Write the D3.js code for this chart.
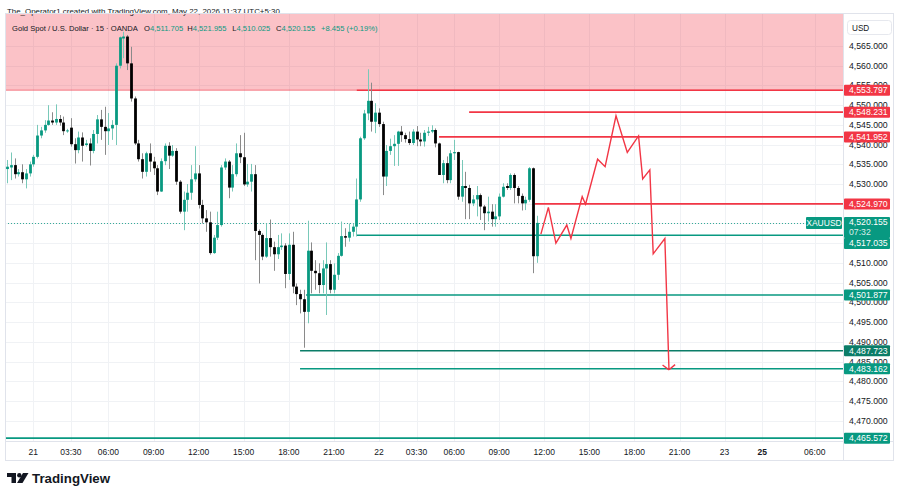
<!DOCTYPE html>
<html>
<head>
<meta charset="utf-8">
<script src="https://cdnjs.cloudflare.com/ajax/libs/d3/7.8.5/d3.min.js"></script>
<style>
  body { margin: 0; background: #fff; }
  text { font-family: "Liberation Sans", Arial, sans-serif; }
</style>
</head>
<body>
<svg id="chart" width="900" height="498"></svg>
<script>
// ---- data : 15 min candles, XAUUSD, bar 0 = 21 May 00:00 ----
var firstBar = -7;
var opens = [4533.8,4534.2,4534.8,4532.5,4533.0,4531.2,4532.7,
  4535.0,4536.9,4542.3,4543.6,4545.0,4546.1,4545.6,4546.5,4545.6,4543.4,
  4544.3,4540.1,4538.6,4541.8,4539.9,4540.3,4538.4,4542.7,4546.4,4544.5,
  4543.4,4544.1,4545.0,4560.0,4566.9,4567.4,4560.6,4551.7,4540.3,4536.3,
  4533.1,4537.8,4535.7,4534.0,4528.1,4535.8,4539.7,4537.2,4538.4,4530.6,
  4523.0,4526.0,4527.8,4531.2,4532.7,4524.7,4521.3,4520.3,4512.5,4516.4,
  4519.6,4534.2,4535.7,4529.1,4532.5,4537.8,4536.8,4529.9,4530.6,4532.5,
  4518.1,4517.1,4511.6,4516.3,4514.0,4512.2,4514.0,4514.4,4507.2,4514.6,
  4504.0,4502.1,4500.8,4497.6,4513.1,4508.0,4507.4,4504.4,4508.6,4509.7,
  4503.2,4507.0,4511.8,4516.8,4516.4,4517.9,4519.2,4526.1,4541.6,4547.9,
  4551.1,4545.8,4548.1,4545.2,4531.9,4538.4,4539.6,4540.2,4543.3,4542.4,
  4541.4,4540.4,4543.3,4541.3,4540.8,4543.0,4543.3,4543.7,4540.3,4532.3,
  4535.3,4531.0,4537.8,4538.1,4526.8,4529.5,4529.0,4525.1,4526.1,4527.2,
  4524.3,4522.6,4523.0,4521.1,4521.8,4526.8,4529.5,4529.0,4532.3,4529.0,
  4527.0,4525.1,4526.0,4534.0,4511.705];
var highs = [4536.1,4538.0,4536.5,4533.8,4535.0,4533.8,4535.7,
  4537.4,4545.0,4544.5,4546.2,4550.0,4548.2,4550.2,4547.5,4547.1,4544.0,
  4546.7,4541.6,4543.3,4543.1,4541.2,4541.6,4543.7,4547.5,4548.8,4549.6,
  4548.0,4546.2,4560.6,4567.4,4568.6,4567.8,4564.8,4552.2,4541.2,4537.8,
  4538.2,4540.3,4536.9,4534.8,4536.5,4540.3,4540.6,4539.9,4539.1,4531.0,
  4528.1,4530.0,4534.8,4539.6,4534.8,4526.0,4523.4,4523.0,4517.1,4523.0,
  4534.8,4536.5,4536.1,4534.8,4540.3,4542.4,4543.0,4535.1,4535.1,4534.8,
  4518.5,4517.5,4520.0,4521.0,4515.4,4517.1,4517.5,4515.0,4517.5,4517.9,
  4504.8,4503.2,4503.2,4520.7,4515.2,4510.7,4509.9,4510.7,4515.2,4510.7,
  4509.9,4512.5,4520.5,4518.8,4520.0,4520.0,4531.4,4542.0,4548.8,4559.1,
  4555.7,4550.5,4549.2,4545.8,4539.9,4541.5,4542.4,4543.5,4544.7,4543.0,
  4543.3,4543.9,4544.7,4543.0,4543.7,4544.5,4544.9,4544.1,4540.5,4536.1,
  4537.0,4538.6,4541.2,4538.2,4536.1,4533.1,4529.8,4527.2,4529.5,4527.6,
  4524.7,4526.8,4524.9,4524.9,4527.6,4530.2,4530.2,4532.7,4532.7,4529.5,
  4527.6,4526.8,4534.3,4534.2,4521.955];
var lows = [4530.2,4531.0,4531.4,4531.9,4530.2,4528.9,4531.9,
  4534.4,4536.5,4541.6,4543.0,4544.8,4545.0,4545.0,4544.8,4542.4,4543.0,
  4539.5,4535.2,4537.8,4535.7,4539.5,4534.7,4537.8,4540.3,4541.2,4537.4,
  4539.9,4541.2,4539.9,4559.3,4561.9,4558.9,4550.9,4539.9,4535.7,4531.4,
  4531.9,4533.1,4532.3,4527.2,4528.0,4534.8,4533.8,4536.9,4529.8,4522.5,
  4518.3,4523.0,4526.0,4530.6,4523.8,4520.0,4517.9,4512.1,4512.3,4515.8,
  4519.2,4533.6,4526.4,4528.1,4531.9,4535.3,4529.5,4529.3,4528.1,4510.7,
  4504.8,4510.7,4511.3,4511.6,4508.0,4511.0,4513.3,4503.6,4505.7,4502.3,
  4499.3,4497.2,4488.5,4494.7,4502.3,4503.2,4502.3,4502.3,4496.8,4502.3,
  4502.3,4505.7,4511.6,4514.1,4515.4,4516.7,4516.7,4525.5,4541.2,4546.2,
  4543.3,4542.9,4544.5,4527.2,4529.5,4537.4,4534.6,4534.6,4540.7,4540.5,
  4539.9,4539.9,4539.6,4539.6,4539.5,4542.2,4542.9,4539.3,4532.3,4530.2,
  4530.2,4530.2,4536.1,4526.0,4525.5,4521.1,4521.1,4524.4,4521.8,4520.9,
  4518.3,4520.5,4519.2,4519.2,4520.9,4526.6,4528.5,4528.5,4525.1,4525.1,
  4523.3,4523.4,4525.5,4507.4,4510.025];
var closes = [4534.4,4534.8,4532.5,4533.0,4531.2,4532.7,4535.0,
  4536.9,4542.3,4543.6,4545.0,4546.1,4545.6,4546.5,4545.6,4543.4,4543.6,
  4540.1,4538.6,4541.8,4539.7,4540.3,4538.4,4542.7,4546.4,4544.5,4543.4,
  4544.1,4545.0,4560.0,4567.2,4567.4,4560.6,4551.7,4540.3,4536.3,4533.1,
  4537.8,4535.7,4534.0,4528.1,4535.8,4539.7,4537.2,4538.4,4530.6,4523.0,
  4526.0,4527.8,4531.2,4532.7,4524.7,4521.3,4520.3,4512.5,4516.4,4519.6,
  4534.2,4535.7,4529.1,4532.5,4537.8,4536.8,4529.9,4530.6,4532.5,4518.1,
  4517.1,4511.6,4516.3,4514.0,4512.2,4514.0,4514.4,4507.2,4514.6,4504.0,
  4502.1,4500.8,4497.6,4513.1,4508.0,4507.4,4504.4,4508.6,4509.7,4503.2,
  4507.0,4511.8,4516.8,4516.4,4517.9,4519.2,4526.1,4541.6,4547.9,4551.1,
  4545.8,4548.1,4545.2,4531.9,4538.4,4539.6,4540.2,4543.3,4542.4,4541.4,
  4540.4,4543.3,4541.3,4540.8,4543.0,4543.3,4543.7,4540.3,4532.3,4535.3,
  4531.0,4537.8,4538.1,4526.8,4529.5,4529.0,4525.1,4526.1,4527.2,4524.3,
  4522.6,4523.0,4521.1,4521.8,4526.8,4529.3,4529.0,4532.3,4529.0,4527.0,
  4525.1,4526.0,4534.0,4511.7,4520.155];

// time axis (bar index of each label)
var timeTickIdx = [0,10,20,32,44,56,68,80,92,102,112,124,136,148,160,172,184,194,208];
var timeTickLab = ["21","03:30","06:00","09:00","12:00","15:00","18:00","21:00","22",
                   "03:30","06:00","09:00","12:00","15:00","18:00","21:00","23","25","06:00"];
var priceTicks = d3.range(4470, 4566, 5);

// drawn levels
var zoneLow = 4553.797, zoneHigh = 4585;
var levelVals  = [4553.797, 4548.231, 4541.952, 4524.970, 4517.035, 4501.877, 4487.723, 4483.162, 4465.572];
var levelFrom  = [86.1, 116, 108, 133.5, 86.1, 72.6, 71, 71, null];
var levelKind  = ["res","res","res","res","sup","sup","sup2","sup","sup"];

// projected path
var projIdx = [135.1,137.1,139.1,142.0,143.1,146.1,147.0,150.2,152.2,155.1,158.1,161.1,162.2,164.1,165.0,168.1,169.2];
var projVal = [4517.3,4524.1,4515.0,4519.6,4516.2,4526.8,4524.9,4536.3,4534.4,4547.3,4538.0,4542.2,4531.3,4533.6,4512.3,4516.2,4482.9];

// ---- layout ----
var svg = d3.select("#chart");
var plot = {left: 5, right: 843, top: 13, bottom: 441, axisRight: 893, axisBottom: 460};
var x = d3.scaleLinear().domain([0, 208]).range([33.3, 33.3 + 208 * 3.757]);
var y = d3.scaleLinear().domain([4565, 4470]).range([46, 420.7]);
var up = "#089981", down = "#000000", red = "#f23645";
var kindColor = {res: red, sup: up, sup2: "#0b7d68"};
var fmt = d3.format(",.3f");

// shrink a text's font so it spans the wanted width
function fit(t, w) {
  var fs = parseFloat(t.attr("font-size"));
  t.attr("font-size", fs * w / t.node().getComputedTextLength());
  return t;
}

svg.append("rect").attr("width", 900).attr("height", 498).attr("fill", "#fff");
svg.append("clipPath").attr("id", "pc").append("rect")
   .attr("x", plot.left).attr("y", plot.top)
   .attr("width", plot.right - plot.left).attr("height", plot.bottom - plot.top);
var g = svg.append("g").attr("clip-path", "url(#pc)");

// grid
g.selectAll(".hg").data(priceTicks).enter().append("line")
 .attr("x1", plot.left).attr("x2", plot.right)
 .attr("y1", function(d){ return Math.round(y(d)) + 0.5; })
 .attr("y2", function(d){ return Math.round(y(d)) + 0.5; })
 .attr("stroke", "#f0f2f5");
g.selectAll(".vg").data(timeTickIdx).enter().append("line")
 .attr("y1", plot.top).attr("y2", plot.bottom)
 .attr("x1", function(d){ return Math.round(x(d)) + 0.5; })
 .attr("x2", function(d){ return Math.round(x(d)) + 0.5; })
 .attr("stroke", "#f0f2f5");

// supply zone
g.append("rect").attr("x", plot.left).attr("width", plot.right - plot.left)
 .attr("y", y(zoneHigh)).attr("height", y(zoneLow) - y(zoneHigh))
 .attr("fill", "rgba(242,54,69,0.3)");
g.append("line").attr("x1", plot.left).attr("x2", plot.right)
 .attr("y1", y(zoneLow)).attr("y2", y(zoneLow))
 .attr("stroke", red).attr("stroke-opacity", 0.6).attr("stroke-width", 1);

// current price dotted line
var last = closes[closes.length - 1];
g.append("line").attr("x1", plot.left).attr("x2", 806)
 .attr("y1", Math.round(y(last)) + 0.5).attr("y2", Math.round(y(last)) + 0.5)
 .attr("stroke", up).attr("stroke-dasharray", "1,2").attr("stroke-opacity", 0.8);

// levels
levelVals.forEach(function(v, i){
  var x1 = levelFrom[i] === null ? plot.left : x(levelFrom[i]);
  g.append("line").attr("x1", x1).attr("x2", plot.right)
   .attr("y1", y(v)).attr("y2", y(v))
   .attr("stroke", kindColor[levelKind[i]]).attr("stroke-width", 1.6);
});

// candles
var bars = opens.map(function(o, i){
  return {i: firstBar + i, o: o, h: highs[i], l: lows[i], c: closes[i]};
});
var cw = 2.8;
var cg = g.append("g");
cg.selectAll(".wick").data(bars).enter().append("line")
  .attr("x1", function(d){ return Math.round(x(d.i)) + 0.5; })
  .attr("x2", function(d){ return Math.round(x(d.i)) + 0.5; })
  .attr("y1", function(d){ return y(d.h); })
  .attr("y2", function(d){ return y(d.l); })
  .attr("stroke", function(d){ return d.c >= d.o ? "#79c9b9" : "#8a8a8a"; })
  .attr("stroke-width", 1);
cg.selectAll(".body").data(bars).enter().append("rect")
  .attr("x", function(d){ return Math.round(x(d.i)) + 0.5 - cw / 2; })
  .attr("width", cw)
  .attr("y", function(d){ return y(Math.max(d.o, d.c)); })
  .attr("height", function(d){ return Math.max(1, Math.abs(y(d.o) - y(d.c))); })
  .attr("fill", function(d){ return d.c >= d.o ? up : down; });

// projection
var pts = projIdx.map(function(d, i){ return [x(d), y(projVal[i])]; });
g.append("path").attr("d", d3.line()(pts))
 .attr("fill", "none").attr("stroke", red).attr("stroke-width", 1.4)
 .attr("stroke-linejoin", "miter");
var tip = pts[pts.length - 1], prev = pts[pts.length - 2];
var ang = Math.atan2(tip[1] - prev[1], tip[0] - prev[0]);
[-0.9, 0.9].forEach(function(a){
  g.append("line").attr("x1", tip[0]).attr("y1", tip[1])
   .attr("x2", tip[0] - 8 * Math.cos(ang + a)).attr("y2", tip[1] - 8 * Math.sin(ang + a))
   .attr("stroke", red).attr("stroke-width", 1.4);
});

// header
fit(svg.append("text").attr("x", 7).attr("y", 14).attr("font-size", 8).attr("fill", "#131722")
   .text("The_Operator1 created with TradingView.com, May 22, 2026 11:37 UTC+5:30"), 273);
var hdrFs = parseFloat(fit(svg.append("text").attr("x", 12).attr("y", 31).attr("font-size", 8)
   .attr("fill", "#131722").text("Gold Spot / U.S. Dollar · 15 · OANDA"), 126).attr("font-size"));
var ohlc = [["O", opens[opens.length-1], 144], ["H", highs[highs.length-1], 187.3],
            ["L", lows[lows.length-1], 232.3], ["C", last, 276]];
ohlc.forEach(function(d){
  var t = svg.append("text").attr("x", d[2]).attr("y", 31).attr("font-size", hdrFs);
  t.append("tspan").attr("fill", "#131722").text(d[0]);
  t.append("tspan").attr("fill", up).text(fmt(d[1]));
});
svg.append("text").attr("x", 321).attr("y", 31).attr("font-size", hdrFs).attr("fill", up)
   .text("+8.455 (+0.19%)");

// frame
var frameColor = "#e0e3eb";
svg.append("rect").attr("x", plot.left + 0.5).attr("y", plot.top + 0.5)
   .attr("width", plot.axisRight - plot.left).attr("height", plot.axisBottom - plot.top)
   .attr("fill", "none").attr("stroke", frameColor);
svg.append("line").attr("x1", plot.right + 0.5).attr("x2", plot.right + 0.5)
   .attr("y1", plot.top).attr("y2", plot.axisBottom).attr("stroke", frameColor);
svg.append("line").attr("x1", plot.left).attr("x2", plot.axisRight)
   .attr("y1", plot.bottom + 0.5).attr("y2", plot.bottom + 0.5).attr("stroke", frameColor);

// price axis
svg.selectAll(".pt").data(priceTicks).enter().append("text")
   .attr("x", 849).attr("y", function(d){ return y(d) + 3; })
   .attr("font-size", 8.7).attr("fill", "#131722")
   .text(function(d){ return fmt(d); });
svg.append("rect").attr("x", 847.5).attr("y", 20.5).attr("width", 44).attr("height", 14)
   .attr("rx", 3).attr("fill", "#fff").attr("stroke", "#e6e8ee");
svg.append("text").attr("x", 852).attr("y", 30.5).attr("font-size", 8.2).attr("fill", "#131722").text("USD");

// time axis
svg.selectAll(".tt").data(timeTickIdx).enter().append("text")
   .attr("x", function(d){ return x(d); }).attr("y", 455)
   .attr("text-anchor", "middle").attr("font-size", 8.5).attr("fill", "#131722")
   .attr("font-weight", function(d, i){ return timeTickLab[i] === "25" ? "bold" : null; })
   .text(function(d, i){ return timeTickLab[i]; });

// price labels (pushed below the live price box when they would overlap it)
var liveTop = y(last) - 6, liveBottom = y(last) + 15;
function priceLabel(v, color, extra) {
  var h = extra ? 21 : 11;
  var top = extra ? liveTop : y(v) - 5.5;
  if (!extra && top < liveBottom && top + h > liveTop) top = liveBottom;
  svg.append("rect").attr("x", 844).attr("y", top).attr("width", 46).attr("height", h)
     .attr("rx", 1).attr("fill", color);
  svg.append("text").attr("x", 849).attr("y", top + 8.5).attr("font-size", 8.7)
     .attr("fill", "#fff").text(fmt(v));
  if (extra) {
    svg.append("text").attr("x", 849).attr("y", top + 18).attr("font-size", 8.7)
       .attr("fill", "#fff").attr("fill-opacity", 0.85).text(extra);
  }
}
priceLabel(last, up, "07:32");
svg.append("rect").attr("x", 806).attr("y", y(last) - 6).attr("width", 36).attr("height", 12)
   .attr("rx", 1).attr("fill", up);
svg.append("text").attr("x", 824).attr("y", y(last) + 3).attr("text-anchor", "middle")
   .attr("font-size", 8.5).attr("fill", "#fff").text("XAUUSD");
levelVals.forEach(function(v, i){ priceLabel(v, kindColor[levelKind[i]]); });

// logo
var logo = svg.append("g").attr("fill", "#131722");
logo.append("path").attr("d", "M7,473 H16 V483 H11.5 V477 H7 Z");
logo.append("circle").attr("cx", 19.3).attr("cy", 475.2).attr("r", 2.2);
logo.append("path").attr("d", "M23,473 H28.5 L22.5,483 H17 Z");
svg.append("text").attr("x", 32).attr("y", 483).attr("font-size", 13.3)
   .attr("font-weight", "bold").attr("fill", "#131722").text("TradingView");
</script>
</body>
</html>
